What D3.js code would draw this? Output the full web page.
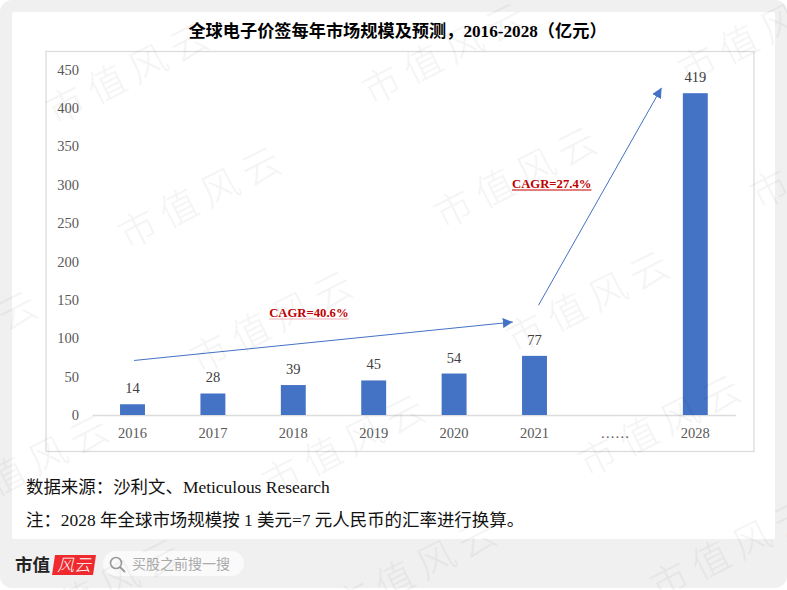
<!DOCTYPE html>
<html>
<head>
<meta charset="utf-8">
<script src="https://cdn.jsdelivr.net/npm/d3@7"></script>
<style>
  html, body { margin: 0; padding: 0; background: #fff; }
  svg { display: block; }
  text { font-family: "Liberation Serif", "Noto Sans CJK SC", serif; }
  .tick text { font-size: 14.5px; fill: #595959; }
  .bar { fill: #4472c4; }
  .bar_label { font-size: 14.5px; fill: #404040; text-anchor: middle; }
  .arrow { fill: none; stroke: #4472c4; stroke-width: 1; }
  .cagr { font-size: 12.7px; font-weight: bold; fill: #c00000; }
  .note { font-size: 17.45px; fill: #111; }
  .mark { font-family: "Noto Sans CJK SC", sans-serif; font-size: 38px; font-weight: 300; letter-spacing: 8px; fill: #000; opacity: 0.04; }
</style>
</head>
<body>
<svg id="chart-1" width="787" height="590"></svg>
<script>
  const categories = ["2016", "2017", "2018", "2019", "2020", "2021", "……", "2028"]
  const values = [14, 28, 39, 45, 54, 77, null, 419]
  const yTicks = [0, 50, 100, 150, 200, 250, 300, 350, 400, 450]
  const titleText = "全球电子价签每年市场规模及预测，2016-2028（亿元）"
  const sourceText = "数据来源：沙利文、Meticulous Research"
  const noteText = "注：2028 年全球市场规模按 1 美元=7 元人民币的汇率进行换算。"
  // arrows: position on category index, value on the y axis
  const arrowIndex = [[0.02, 4.73], [5.05, 6.58]]
  const arrowValue = [[71, 121], [143, 426]]
  const cagrLabels = ["CAGR=40.6%", "CAGR=27.4%"]
  const cagrIndex = [1.70, 4.72]
  const cagrValue = [127.6, 295.6]
  const cagrUnderline = ["#efb3b8", "#c00000"]

  const svg = d3.select("#chart-1")

  // page background and card
  svg.append("rect").attr("width", 787).attr("height", 588).attr("rx", 12).attr("fill", "#f0f0f0")
  svg.append("rect").attr("x", 12).attr("y", 12).attr("width", 763).attr("height", 527).attr("rx", 2).attr("fill", "#fff")

  // chart frame
  svg.append("rect").attr("x", 46).attr("y", 51.5).attr("width", 708).attr("height", 400)
    .attr("fill", "none").attr("stroke", "#dcdcdc").attr("stroke-width", 1.3)

  svg.append("text").attr("x", 397.5).attr("y", 37).attr("text-anchor", "middle")
    .style("font-size", "17.2px").style("font-weight", "bold").attr("fill", "#000").text(titleText)

  const x = d3.scaleBand().domain(categories).range([92.3, 735.5]).paddingInner(0.69).paddingOuter(0.345)
  const y = d3.scaleLinear().domain([0, 450]).range([415, 69.4])
  const xIndex = d3.scaleLinear().domain([0, 7]).range([x("2016") + x.bandwidth() / 2, x("2028") + x.bandwidth() / 2])

  // y axis
  const yAxis = svg.append("g").attr("transform", "translate(83,0)")
    .call(d3.axisLeft(y).tickValues(yTicks).tickSize(0).tickPadding(4))
  yAxis.select(".domain").remove()

  // x axis
  const xAxis = svg.append("g").attr("transform", "translate(0,415)")
    .call(d3.axisBottom(x).tickSize(0).tickSizeOuter(0).tickPadding(13))
  xAxis.select(".domain").attr("stroke", "#dcdcdc").attr("stroke-width", 1.5)

  const rows = categories.map((c, i) => ({ c: c, v: values[i] })).filter(d => d.v !== null)

  svg.selectAll(".bar").data(rows).enter().append("rect")
    .attr("class", "bar")
    .attr("x", d => x(d.c))
    .attr("y", d => y(d.v))
    .attr("width", x.bandwidth())
    .attr("height", d => y(0) - y(d.v))

  svg.selectAll(".bar_label").data(rows).enter().append("text")
    .attr("class", "bar_label")
    .attr("x", d => x(d.c) + x.bandwidth() / 2)
    .attr("y", d => y(d.v) - 11)
    .text(d => d.v)

  // arrows
  svg.append("defs").append("marker")
    .attr("id", "head").attr("viewBox", "0 0 10 10").attr("refX", 10).attr("refY", 5)
    .attr("markerUnits", "userSpaceOnUse").attr("markerWidth", 10).attr("markerHeight", 10).attr("orient", "auto")
    .append("path").attr("d", "M0,0L10,5L0,10Z").attr("fill", "#4472c4")

  arrowIndex.forEach((idx, i) => {
    svg.append("line").attr("class", "arrow")
      .attr("x1", xIndex(idx[0])).attr("y1", y(arrowValue[i][0]))
      .attr("x2", xIndex(idx[1])).attr("y2", y(arrowValue[i][1]))
      .attr("marker-end", "url(#head)")
  })

  // CAGR labels with their underline
  cagrLabels.forEach((label, i) => {
    const t = svg.append("text").attr("class", "cagr")
      .attr("x", xIndex(cagrIndex[i])).attr("y", y(cagrValue[i])).text(label)
    const w = t.node().getComputedTextLength()
    svg.append("line")
      .attr("x1", xIndex(cagrIndex[i])).attr("x2", xIndex(cagrIndex[i]) + w)
      .attr("y1", y(cagrValue[i]) + 2).attr("y2", y(cagrValue[i]) + 2)
      .attr("stroke", cagrUnderline[i]).attr("stroke-width", 1.2)
  })

  // source and note
  svg.append("text").attr("class", "note").attr("x", 26).attr("y", 493).text(sourceText)
  svg.append("text").attr("class", "note").attr("x", 26).attr("y", 526).text(noteText)

  // footer logo and search box
  svg.append("text").attr("x", 15).attr("y", 571).attr("fill", "#222")
    .style("font-family", "'Noto Sans CJK SC'").style("font-size", "17.5px").style("font-weight", "bold").text("市值")
  svg.append("path").attr("d", "M55,555H96L93,575H52Z").attr("fill", "#ee2a2e")
  svg.append("text").attr("x", 57).attr("y", 571).attr("fill", "#fff")
    .style("font-family", "'Noto Sans CJK SC'").style("font-size", "17px").style("font-weight", 300).style("font-style", "italic").text("风云")
  svg.append("rect").attr("x", 103).attr("y", 551).attr("width", 141).attr("height", 25).attr("rx", 12.5).attr("fill", "#fafafa")
  svg.append("circle").attr("cx", 116).attr("cy", 563).attr("r", 5.5).attr("fill", "none").attr("stroke", "#999").attr("stroke-width", 1.6)
  svg.append("path").attr("d", "M120,567L125,572").attr("stroke", "#999").attr("stroke-width", 1.8)
  svg.append("text").attr("x", 132).attr("y", 569).attr("fill", "#aaa")
    .style("font-family", "'Noto Sans CJK SC'").style("font-size", "14px").text("买股之前搜一搜")

  // watermark lattice
  for (let i = -2; i < 5; i++) {
    for (let j = -2; j < 6; j++) {
      const px = 55 + 316 * i + 72 * j
      const py = 126 - 20 * i + 124 * j
      if (px < -200 || px > 800 || py < -20 || py > 680) continue
      svg.append("text").attr("class", "mark")
        .attr("transform", "translate(" + px + "," + py + ") rotate(-27)")
        .text("市值风云")
    }
  }
</script>
</body>
</html>
